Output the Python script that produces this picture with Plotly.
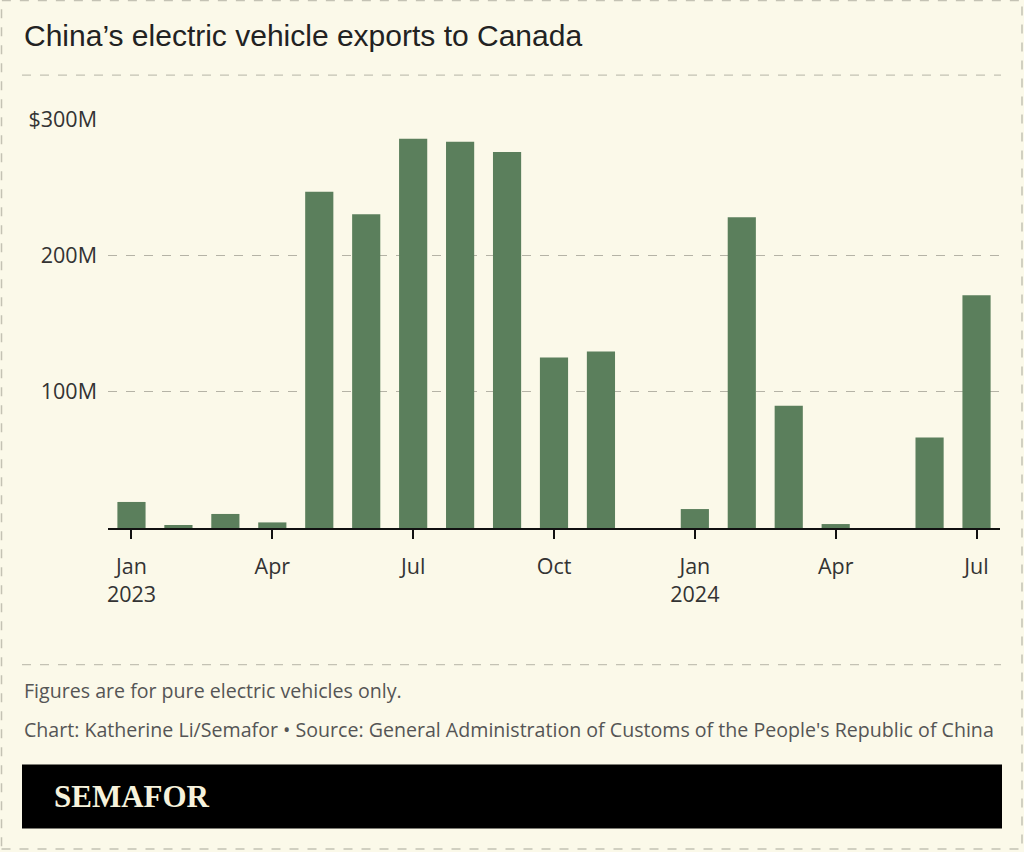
import plotly.graph_objects as go

# ---- data ----
months = ["2023-01", "2023-02", "2023-03", "2023-04", "2023-05", "2023-06",
          "2023-07", "2023-08", "2023-09", "2023-10", "2023-11", "2023-12",
          "2024-01", "2024-02", "2024-03", "2024-04", "2024-05", "2024-06",
          "2024-07"]
exports_musd = [19.1, 2.2, 10.3, 4.1, 246.7, 230.2, 285.6, 283.4, 275.8,
                125.0, 129.4, 0, 13.9, 228.0, 89.6, 2.9, 0, 66.4, 170.8]
x_tick_months = ["2023-01", "2023-04", "2023-07", "2023-10",
                 "2024-01", "2024-04", "2024-07"]
x_tick_labels = ["Jan<br>2023", "Apr", "Jul", "Oct", "Jan<br>2024", "Apr", "Jul"]
y_tick_vals = [100, 200, 300]
y_tick_labels = ["100M", "200M", "$300M"]

title_text = "China’s electric vehicle exports to Canada"
note_text = "Figures are for pure electric vehicles only."
source_text = ("Chart: Katherine Li/Semafor • Source: General Administration of "
               "Customs of the People's Republic of China")

# ---- layout geometry (pixels) ----
W, H = 1024, 852
PL, PR, PT, PB = 108, 1000, 119, 528.3
BG = "#fbf9e9"
BAR = "#5b7f5c"
TXT = "Open Sans, Roboto, Liberation Sans, sans-serif"


def px_x(x):
    return (x - PL) / (PR - PL)


def px_y(y):
    return (PB - y) / (PB - PT)


fig = go.Figure()
fig.add_trace(go.Bar(x=months, y=exports_musd, marker=dict(color=BAR, line=dict(width=0)),
                     hoverinfo="x+y"))

shapes = [
    # outer dashed frame
    dict(type="rect", xref="paper", yref="paper", x0=px_x(1.5), x1=px_x(1022), y0=px_y(849.5), y1=px_y(0.5),
         line=dict(color="#c4c2b4", width=1.5, dash="dash"), fillcolor="rgba(0,0,0,0)", layer="below"),
    # separator under title
    dict(type="line", xref="paper", yref="paper", x0=px_x(22), x1=px_x(1001), y0=px_y(75), y1=px_y(75),
         line=dict(color="#c4c2b4", width=1.2, dash="dash")),
    # separator above footer
    dict(type="line", xref="paper", yref="paper", x0=px_x(22), x1=px_x(1001), y0=px_y(665), y1=px_y(665),
         line=dict(color="#c4c2b4", width=1.2, dash="dash")),
    # black logo band
    dict(type="rect", xref="paper", yref="paper", x0=px_x(22), x1=px_x(1002), y0=px_y(829), y1=px_y(765),
         line=dict(width=0), fillcolor="#000000"),
]

annotations = [
    dict(text=title_text, x=px_x(22), y=px_y(35), xref="paper", yref="paper", xanchor="left",
         yanchor="middle", showarrow=False, font=dict(family="Liberation Sans, Arial, sans-serif",
                                                      size=30, color="#222222")),
    dict(text=note_text, x=px_x(22), y=px_y(691), xref="paper", yref="paper", xanchor="left",
         yanchor="middle", showarrow=False, font=dict(family=TXT, size=19.6, color="#555555")),
    dict(text=source_text, x=px_x(22), y=px_y(730), xref="paper", yref="paper", xanchor="left",
         yanchor="middle", showarrow=False, font=dict(family=TXT, size=19.6, color="#555555")),
    dict(text="<b>SEMAFOR</b>", x=px_x(52), y=px_y(797), xref="paper", yref="paper", xanchor="left",
         yanchor="middle", showarrow=False,
         font=dict(family="Liberation Serif, Times New Roman, serif", size=31, color="#f6f2dc")),
]

fig.update_layout(
    width=W, height=H,
    margin=dict(l=PL, r=W - PR, t=PT, b=H - PB, pad=0),
    paper_bgcolor=BG, plot_bgcolor=BG,
    bargap=0.4,
    showlegend=False,
    shapes=shapes,
    annotations=annotations,
    xaxis=dict(type="category", categoryorder="array", categoryarray=months,
               range=[-0.5, len(months) - 0.5],
               tickmode="array", tickvals=x_tick_months, ticktext=x_tick_labels,
               ticks="outside", ticklen=9, tickwidth=2, tickcolor="#111111",
               showline=True, linecolor="#111111", linewidth=2,
               showgrid=False, zeroline=False, ticklabelstandoff=9,
               tickfont=dict(family=TXT, size=21.5, color="#333333"), fixedrange=True),
    yaxis=dict(range=[0, 300], tickmode="array", tickvals=y_tick_vals, ticktext=y_tick_labels,
               showgrid=True, gridcolor="#b5b3a6", gridwidth=1.2, griddash="dash",
               zeroline=False, showline=False, ticks="", ticklabelstandoff=10,
               tickfont=dict(family=TXT, size=21.5, color="#333333"), fixedrange=True),
)

fig.write_html("out.html", config={"displayModeBar": False},
               post_script="document.body.style.margin='0';document.body.style.overflow='hidden';")
